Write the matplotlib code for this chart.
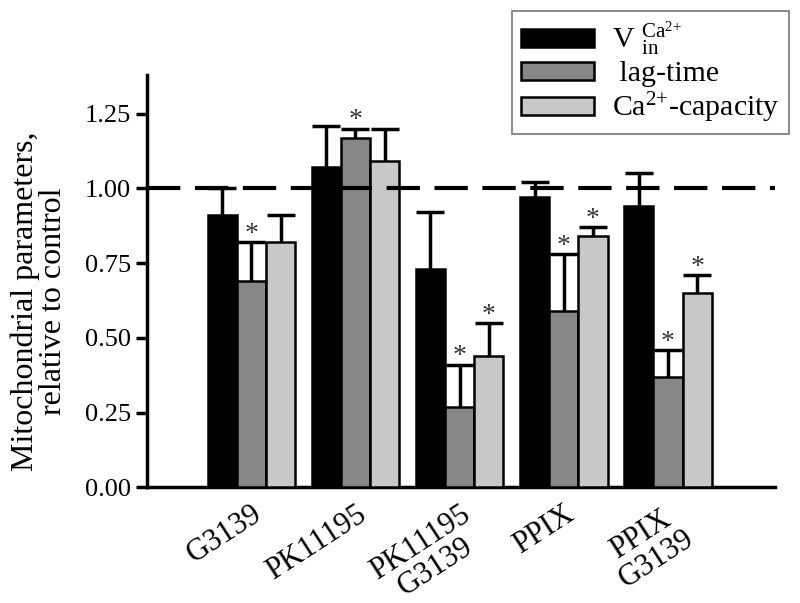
import numpy as np
import matplotlib
matplotlib.use('Agg')
import matplotlib.pyplot as plt
from matplotlib.patches import Patch

plt.rcParams['font.family'] = ['Liberation Serif', 'DejaVu Serif']
plt.rcParams['mathtext.fontset'] = 'custom'
plt.rcParams['mathtext.rm'] = 'Liberation Serif'
plt.rcParams['mathtext.it'] = 'Liberation Serif:italic'

# Data
groups = ['G3139', 'PK11195', 'PK11195\nG3139', 'PPIX', 'PPIX\nG3139']
v_in      = [0.91, 1.07, 0.73, 0.97, 0.94]
v_in_err  = [0.09, 0.14, 0.19, 0.05, 0.11]
lag       = [0.69, 1.17, 0.27, 0.59, 0.37]
lag_err   = [0.13, 0.03, 0.14, 0.19, 0.09]
cap       = [0.82, 1.09, 0.44, 0.84, 0.65]
cap_err   = [0.09, 0.11, 0.11, 0.03, 0.06]
lag_sig   = [True, True, True, True, True]
cap_sig   = [False, False, True, True, True]

series = [
    (v_in, v_in_err, [False] * 5, '#000000', r'V $^{\mathrm{Ca}^{2{+}}}_{\mathrm{in}}$'),
    (lag, lag_err, lag_sig, '#878787', ' lag-time'),
    (cap, cap_err, cap_sig, '#c8c8c8', r'Ca$^{2{+}}$-capacity'),
]

fig = plt.figure(figsize=(8, 6.03), dpi=100)
ax = fig.add_axes([0.184, 0.192, 0.785, 0.684])

x = np.arange(len(groups))
w = 0.28
for i, (vals, errs, sig, col, lab) in enumerate(series):
    pos = x + (i - 1) * w
    ax.bar(pos, vals, w, color=col, edgecolor='black', linewidth=1.8, zorder=3)
    eb = ax.errorbar(pos, vals, yerr=[np.zeros(len(vals)), errs], fmt='none',
                     ecolor='black', elinewidth=2.5, capsize=10, capthick=2.5, zorder=2)
    eb[1][0].set_visible(False)
    for p, v, e, s in zip(pos, vals, errs, sig):
        if s:
            ax.text(p, v + e + 0.004, '*', ha='center', va='baseline', fontsize=20,
                    color='#333333')

ax.axhline(1.0, color='black', lw=3, dashes=(8, 3.5), zorder=4)

ax.set_xlim(-1.0, 5.03)
ax.set_ylim(0, 1.38)
ax.set_yticks([0, 0.25, 0.5, 0.75, 1.0, 1.25])
ax.set_yticklabels(['0.00', '0.25', '0.50', '0.75', '1.00', '1.25'])
ax.set_xticks(x)
ax.set_xticklabels(groups, rotation=33, ha='right', rotation_mode='anchor',
                   multialignment='center', linespacing=1.0)
ax.tick_params(axis='y', labelsize=19, width=2.5, length=8, direction='out')
ax.tick_params(axis='x', labelsize=22, length=0, pad=9)
for s in ['top', 'right']:
    ax.spines[s].set_visible(False)
for s in ['left', 'bottom']:
    ax.spines[s].set_linewidth(2.5)
ax.set_ylabel('Mitochondrial parameters,\nrelative to control', fontsize=23,
              linespacing=0.95)
ax.yaxis.set_label_coords(-0.126, 0.45)

handles = [Patch(facecolor=c, edgecolor='black', linewidth=1.8, label=l) for _, _, _, c, l in series]
leg = fig.legend(handles=handles, loc='upper right', bbox_to_anchor=(0.986, 0.982),
                 bbox_transform=fig.transFigure, fontsize=21.5, frameon=True,
                 fancybox=False, handlelength=2.45, handleheight=0.55,
                 labelspacing=0.1, borderpad=0.3, handletextpad=0.6,
                 borderaxespad=0.0)
leg.get_frame().set_edgecolor('#555555')
leg.get_frame().set_linewidth(1.2)

fig.savefig('out.png', dpi=100)
